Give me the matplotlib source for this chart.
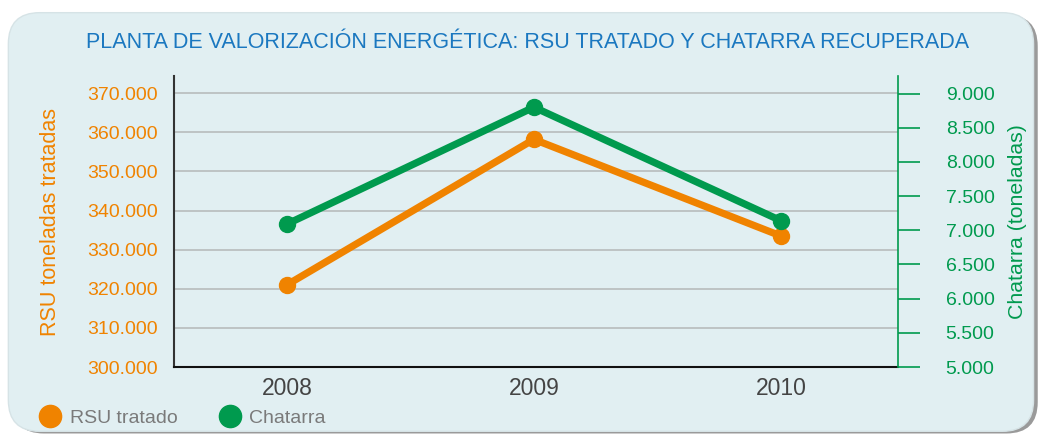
import matplotlib
matplotlib.use("Agg")
import matplotlib.pyplot as plt
from matplotlib.patches import FancyBboxPatch
from matplotlib.lines import Line2D
from matplotlib.ticker import FuncFormatter

plt.rcParams['font.family'] = ['Liberation Sans', 'DejaVu Sans']

years = [2008, 2009, 2010]
rsu = [321000, 358200, 333500]
chatarra = [7090, 8800, 7140]

rsu_ticks = [300000, 310000, 320000, 330000, 340000, 350000, 360000, 370000]
chat_ticks = [5000, 5500, 6000, 6500, 7000, 7500, 8000, 8500, 9000]

orange = "#f08300"
green = "#009a4e"
blue = "#1b78c0"
bg = "#e1eff2"

def miles(v, pos):
    return "{:,.0f}".format(v).replace(",", ".")

fig = plt.figure(figsize=(10.44, 4.37), dpi=100)
fig.patch.set_facecolor("white")

# shadow and rounded panel
shadow = FancyBboxPatch((0.012, 0.008), 0.982, 0.958, boxstyle="round,pad=0,rounding_size=0.03",
                        transform=fig.transFigure, facecolor="#9a9a9a", edgecolor="none",
                        mutation_aspect=1044 / 437, zorder=-20)
panel = FancyBboxPatch((0.008, 0.013), 0.982, 0.958, boxstyle="round,pad=0,rounding_size=0.03",
                       transform=fig.transFigure, facecolor=bg, edgecolor="#d6e3e6",
                       mutation_aspect=1044 / 437, zorder=-10)
fig.patches.extend([shadow, panel])

ax = fig.add_axes([174 / 1044, 1 - 367 / 437, (898 - 174) / 1044, (367 - 76) / 437])
ax.set_facecolor("none")
ax2 = ax.twinx()

ax.plot(years, rsu, color=orange, lw=5.2, marker="o", ms=11.5, zorder=3)
ax2.plot(years, chatarra, color=green, lw=5.2, marker="o", ms=11.5, zorder=3)

ax.set_xlim(2007.543, 2010.474)
ax.set_ylim(300000, 374400)
ax2.set_ylim(5000, 9256)

ax.set_yticks(rsu_ticks)
ax.yaxis.set_major_formatter(FuncFormatter(miles))
ax.tick_params(axis="y", length=0, pad=11.5, labelsize=14, labelcolor=orange)
ax.grid(axis="y", color="#b8bcbd", lw=1.2)
ax.set_axisbelow(True)
ax.set_xticks(years)
ax.tick_params(axis="x", length=0, pad=7, labelsize=16.5, labelcolor="#444444")
ax.set_ylabel("RSU toneladas tratadas", color=orange, fontsize=15.5, labelpad=19)

ax2.set_yticks(chat_ticks)
ax2.yaxis.set_major_formatter(FuncFormatter(miles))
ax2.tick_params(axis="y", length=15.6, width=1.2, color=green, pad=18.7, labelsize=14, labelcolor=green)
ax2.set_ylabel("Chatarra (toneladas)", color=green, fontsize=15.3, labelpad=10)

for a in (ax, ax2):
    a.spines["top"].set_visible(False)
ax.spines["right"].set_visible(False)
ax2.spines["left"].set_visible(False)
ax2.spines["bottom"].set_visible(False)
ax2.spines["right"].set_color(green)
ax2.spines["right"].set_linewidth(1.2)
ax.spines["left"].set_color("#333333")
ax.spines["left"].set_linewidth(1.5)
ax.spines["bottom"].set_color("#111111")
ax.spines["bottom"].set_linewidth(1.5)

fig.text(0.505, 1 - 42 / 437, "PLANTA DE VALORIZACIÓN ENERGÉTICA: RSU TRATADO Y CHATARRA RECUPERADA",
         ha="center", va="center", color=blue, fontsize=15.5)

handles = [Line2D([], [], ls="none", marker="o", ms=16, color=orange),
           Line2D([], [], ls="none", marker="o", ms=16, color=green)]
leg = fig.legend(handles, ["RSU tratado", "Chatarra"], loc="center left",
                 bbox_to_anchor=(0.022, 1 - 418 / 437), ncol=2, frameon=False,
                 fontsize=14, handlelength=1.0, handletextpad=0.5, columnspacing=2.2)
for t in leg.get_texts():
    t.set_color("#7a7a7a")

fig.savefig("out.png", dpi=100, facecolor=fig.get_facecolor())
